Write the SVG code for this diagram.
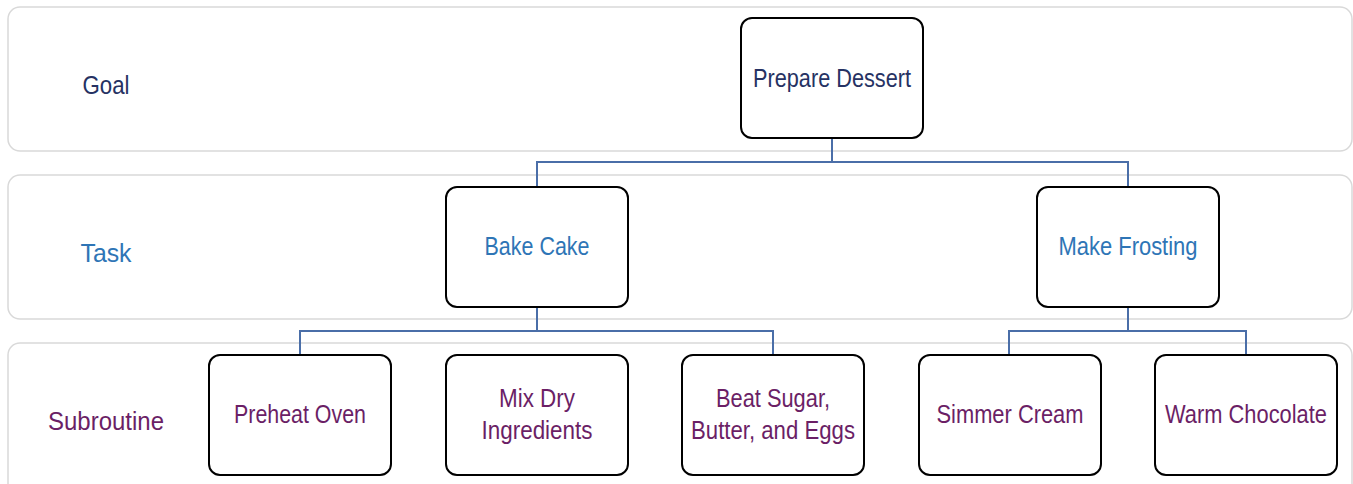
<svg xmlns="http://www.w3.org/2000/svg" width="1353" height="484" viewBox="0 0 1353 484">
<style>
.band{fill:#fff;stroke:#d9d9d9;stroke-width:1.5}
.node{fill:#fff;stroke:#000;stroke-width:2}
.lbl{font-family:"Liberation Sans Narrow","Liberation Sans",Arial,sans-serif;font-size:25px;text-anchor:middle}
.goal{fill:#263263}
.task{fill:#2e75b6}
.sub{fill:#6b1f66}
.conn{fill:none;stroke:#4a6ea8;stroke-width:2}
</style>
<rect width="1353" height="484" fill="#fff"/>
<g id="bands">
<rect class="band" x="8" y="7" width="1344" height="144" rx="12"/>
<rect class="band" x="8" y="175" width="1344" height="144" rx="12"/>
<rect class="band" x="8" y="343" width="1344" height="160" rx="12"/>
<text class="lbl goal" x="106" y="94" textLength="47" lengthAdjust="spacingAndGlyphs">Goal</text>
<text class="lbl task" x="106" y="262" textLength="51" lengthAdjust="spacingAndGlyphs">Task</text>
<text class="lbl sub" x="106" y="430" textLength="116" lengthAdjust="spacingAndGlyphs">Subroutine</text>
</g>
<g id="connectors">
<path class="conn" d="M832 139V162M537 187V162H1128V187"/>
<path class="conn" d="M537 307V331M300 355V331H773V355"/>
<path class="conn" d="M1128 307V331M1009 355V331H1246V355"/>
</g>
<g id="prepare-dessert"><rect class="node" x="741" y="18" width="182" height="120" rx="11"/><text class="lbl goal" x="832" y="87" textLength="158" lengthAdjust="spacingAndGlyphs">Prepare Dessert</text></g>
<g id="bake-cake"><rect class="node" x="446" y="187" width="182" height="120" rx="11"/><text class="lbl task" x="537" y="255" textLength="105" lengthAdjust="spacingAndGlyphs">Bake Cake</text></g>
<g id="make-frosting"><rect class="node" x="1037" y="187" width="182" height="120" rx="11"/><text class="lbl task" x="1128" y="255" textLength="139" lengthAdjust="spacingAndGlyphs">Make Frosting</text></g>
<g id="preheat-oven"><rect class="node" x="209" y="355" width="182" height="120" rx="11"/><text class="lbl sub" x="300" y="423" textLength="132" lengthAdjust="spacingAndGlyphs">Preheat Oven</text></g>
<g id="mix-dry"><rect class="node" x="446" y="355" width="182" height="120" rx="11"/><text class="lbl sub" x="537" y="407" textLength="76" lengthAdjust="spacingAndGlyphs">Mix Dry</text><text class="lbl sub" x="537" y="439" textLength="111" lengthAdjust="spacingAndGlyphs">Ingredients</text></g>
<g id="beat-sugar"><rect class="node" x="682" y="355" width="182" height="120" rx="11"/><text class="lbl sub" x="773" y="407" textLength="114" lengthAdjust="spacingAndGlyphs">Beat Sugar,</text><text class="lbl sub" x="773" y="439" textLength="164" lengthAdjust="spacingAndGlyphs">Butter, and Eggs</text></g>
<g id="simmer-cream"><rect class="node" x="919" y="355" width="182" height="120" rx="11"/><text class="lbl sub" x="1010" y="423" textLength="147" lengthAdjust="spacingAndGlyphs">Simmer Cream</text></g>
<g id="warm-chocolate"><rect class="node" x="1155" y="355" width="182" height="120" rx="11"/><text class="lbl sub" x="1246" y="423" textLength="162" lengthAdjust="spacingAndGlyphs">Warm Chocolate</text></g>
</svg>
